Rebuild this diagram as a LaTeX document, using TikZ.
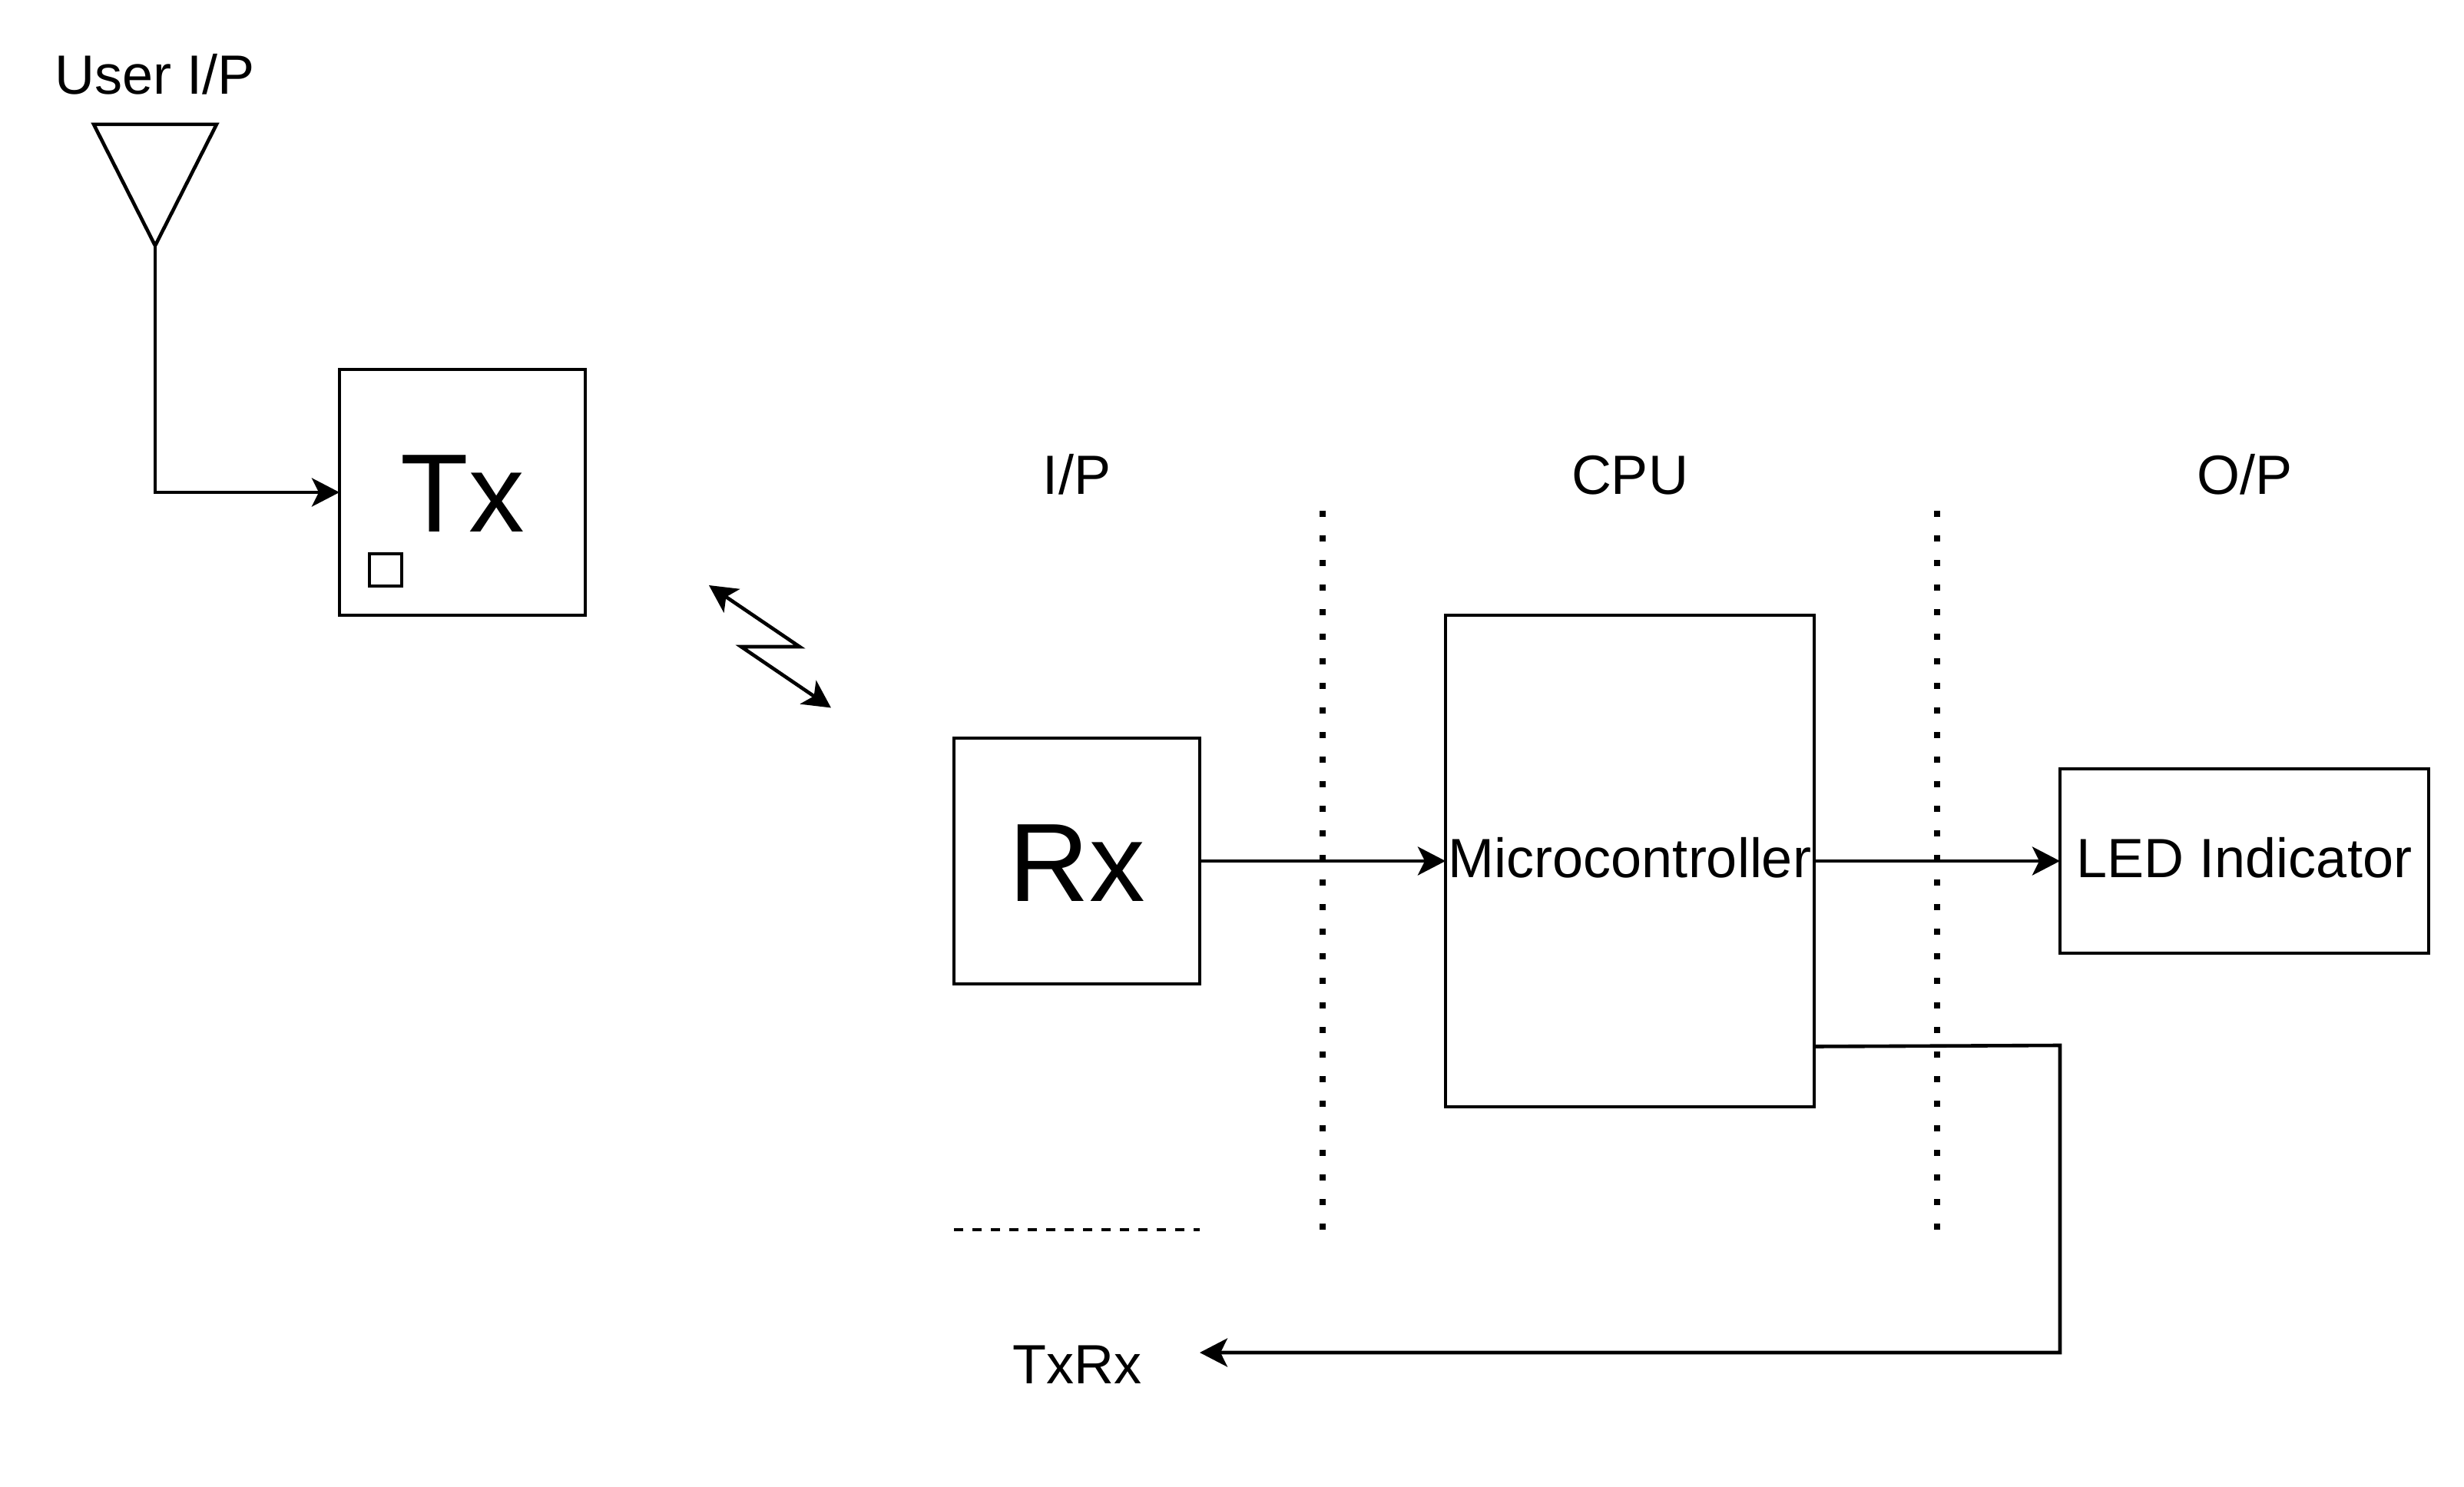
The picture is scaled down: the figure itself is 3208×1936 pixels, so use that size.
\documentclass[tikz,border=0pt]{standalone}
\usepackage{fontspec}
\setmainfont{Liberation Sans}
\usetikzlibrary{arrows.meta,shapes.geometric}
\begin{document}
\begin{tikzpicture}[x=0.5pt,y=-0.5pt,line width=2.3pt,
big node/.style={shape=rectangle,draw,inner sep=0pt,outer sep=0pt,minimum width=160pt,minimum height=160pt,font=\fontsize{72.5}{80}\selectfont,text height=52pt,text depth=0pt},
main node/.style={shape=rectangle,draw,inner sep=0pt,outer sep=0pt,font=\fontsize{36}{40}\selectfont,text height=26pt,text depth=5pt},
label node/.style={inner sep=0pt,outer sep=0pt,anchor=base,font=\fontsize{36}{40}\selectfont},
link/.style={-{Stealth[length=18pt,width=18.5pt,inset=4.5pt]}},
dot line/.style={line width=4pt,dash pattern=on 4pt off 12pt}]
\useasboundingbox (0,0) rectangle (3208,1936);
\node[label node] (U) at (202,123) {User I/P};
\node[shape=isosceles triangle,draw,isosceles triangle stretches,shape border rotate=-90,inner sep=0pt,outer sep=0pt,minimum width=80pt,minimum height=79pt] (A) at (202,211) {};
\node[big node] (T) at (602,641) {Tx};
\node[shape=rectangle,draw,inner sep=0pt,outer sep=0pt,minimum width=21pt,minimum height=21pt] (S) at (502,742) {};
\node[big node] (R) at (1402,1121) {Rx};
\node[main node,minimum width=240pt,minimum height=320pt] (M) at (2122,1121) {Microcontroller};
\node[main node,minimum width=240pt,minimum height=120pt] (L) at (2922,1121) {LED Indicator};
\node[label node] (I) at (1402,644) {I/P};
\node[label node] (C) at (2122,644) {CPU};
\node[label node] (O) at (2922,644) {O/P};
\node[label node] (X) at (1402,1801) {TxRx};
\coordinate (B1) at (923,762);
\coordinate (B2) at (1082,921.5);
\coordinate (D1a) at (1722,665);
\coordinate (D1b) at (1722,1602);
\coordinate (D2a) at (2522,665);
\coordinate (D2b) at (2522,1602);
\coordinate (P1) at (1242,1601);
\coordinate (P2) at (1562,1601);
\coordinate (F) at (2362,1362.5);
\coordinate (G) at (2682,1361);
\coordinate (H) at (2682,1761);
\coordinate (J) at (1562,1761);
\draw [dot line] (D1a) -- (D1b);
\draw [dot line] (D2a) -- (D2b);
\draw [dash pattern=on 6pt off 6pt] (P1) -- (P2);
\draw [link] (A.apex) |- (T.west);
\draw [link] (R.east) -- (M.west);
\draw [link] (M.east) -- (L.west);
\draw [link] (F) -- (G) -- (H) -- (J);
\draw [{Stealth[length=18pt,width=18.5pt,inset=4.5pt]}-{Stealth[length=18pt,width=18.5pt,inset=4.5pt]}] (B1) -- (1041,842) -- (965,842) -- (B2);
\end{tikzpicture}
\end{document}
